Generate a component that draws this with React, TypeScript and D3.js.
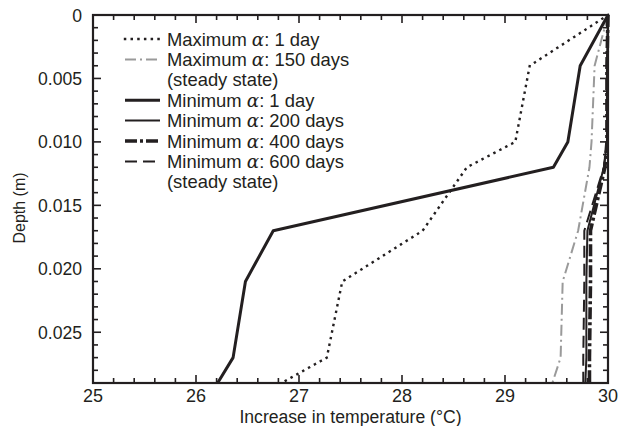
import { useEffect, useRef } from 'react'
import * as d3 from 'd3'

// depth knots (m), shared by every series
const depths = [0, 0.004, 0.010, 0.012, 0.017, 0.021, 0.027, 0.029]

// increase in temperature (°C) at each depth
const maxAlpha1Day = [30, 29.24, 29.10, 28.63, 28.20, 27.42, 27.27, 26.83]
const maxAlpha150Days = [30, 29.87, 29.84, 29.82, 29.71, 29.56, 29.54, 29.46]
const minAlpha1Day = [30, 29.73, 29.61, 29.47, 26.75, 26.48, 26.36, 26.21]
const minAlpha200Days = [30, 29.99, 29.99, 29.96, 29.80, 29.79, 29.79, 29.78]
const minAlpha400Days = [30, 29.99, 29.99, 29.97, 29.83, 29.83, 29.82, 29.82]
const minAlpha600Days = [30, 29.99, 29.99, 29.96, 29.77, 29.77, 29.76, 29.76]

const xTicks = [25, 26, 27, 28, 29, 30]
const yTicks = [0, 0.005, 0.010, 0.015, 0.020, 0.025]
const yTickLabels = ['0', '0.005', '0.010', '0.015', '0.020', '0.025']

interface Series {
  name: string
  suffix?: string
  values: number[]
  color: string
  width: number
  dash: string | null
  cap?: string
}

const series: Series[] = [
  { name: 'Maximum', suffix: ': 1 day', values: maxAlpha1Day, color: '#231f20', width: 2.4, dash: '0.1 6.6', cap: 'square' },
  { name: 'Maximum', suffix: ': 150 days', values: maxAlpha150Days, color: '#9a9a9a', width: 2, dash: '11 4 2 4' },
  { name: 'Minimum', suffix: ': 1 day', values: minAlpha1Day, color: '#231f20', width: 3, dash: null },
  { name: 'Minimum', suffix: ': 200 days', values: minAlpha200Days, color: '#231f20', width: 2, dash: null },
  { name: 'Minimum', suffix: ': 400 days', values: minAlpha400Days, color: '#231f20', width: 3.6, dash: '12 3 3 3' },
  { name: 'Minimum', suffix: ': 600 days', values: minAlpha600Days, color: '#231f20', width: 2, dash: '12 6' },
]

// legend rows; a string is a text-only continuation line
const legendRows: (number | string)[] = [0, 1, '(steady state)', 2, 3, 4, 5, '(steady state)']

export default function App() {
  const svgRef = useRef<SVGSVGElement>(null)

  useEffect(() => {
    if (!svgRef.current) return
    const svg = d3.select(svgRef.current)
    svg.selectAll('*').remove()

    const left = 93
    const right = 608
    const top = 15
    const bottom = 383
    const font = '"Liberation Sans", Arial, Helvetica, sans-serif'
    const ink = '#231f20'

    const x = d3.scaleLinear().domain([25, 30]).range([left, right])
    const y = d3.scaleLinear().domain([0, 0.029]).range([top, bottom])

    // curves
    const g = svg.append('g')
    series.forEach(s => {
      const line = d3.line<number>()
        .x(v => x(v))
        .y((_, i) => y(depths[i]))
      g.append('path')
        .attr('d', line(s.values) as string)
        .attr('fill', 'none')
        .attr('stroke', s.color)
        .attr('stroke-width', s.width)
        .attr('stroke-dasharray', s.dash)
        .attr('stroke-linecap', s.cap ?? 'butt')
        .attr('stroke-linejoin', 'round')
    })

    // ticks (inward, on all four sides)
    const minorX = d3.range(25, 30.001, 0.2)
    const minorY = d3.range(0, 0.02901, 0.001)
    minorX.forEach(t => {
      const major = Math.abs(t - Math.round(t)) < 1e-6
      const len = major ? 8 : 5
      svg.append('line').attr('x1', x(t)).attr('x2', x(t)).attr('y1', bottom).attr('y2', bottom - len)
        .attr('stroke', ink).attr('stroke-width', 1.6)
      svg.append('line').attr('x1', x(t)).attr('x2', x(t)).attr('y1', top).attr('y2', top + len)
        .attr('stroke', ink).attr('stroke-width', 1.6)
    })
    minorY.forEach(t => {
      const major = yTicks.some(v => Math.abs(v - t) < 1e-7)
      const len = major ? 8 : 5
      svg.append('line').attr('x1', left).attr('x2', left + len).attr('y1', y(t)).attr('y2', y(t))
        .attr('stroke', ink).attr('stroke-width', 1.6)
      svg.append('line').attr('x1', right).attr('x2', right - len).attr('y1', y(t)).attr('y2', y(t))
        .attr('stroke', ink).attr('stroke-width', 1.6)
    })

    // frame
    svg.append('rect')
      .attr('x', left).attr('y', top)
      .attr('width', right - left).attr('height', bottom - top)
      .attr('fill', 'none').attr('stroke', ink).attr('stroke-width', 2.2)

    // tick labels
    xTicks.forEach(t => {
      svg.append('text')
        .attr('x', x(t)).attr('y', 402)
        .attr('text-anchor', 'middle')
        .attr('font-family', font).attr('font-size', 18).attr('fill', ink)
        .text(t)
    })
    yTicks.forEach((t, i) => {
      svg.append('text')
        .attr('x', 82).attr('y', y(t) + 6.5)
        .attr('text-anchor', 'end')
        .attr('font-family', font).attr('font-size', 17.6).attr('fill', ink)
        .text(yTickLabels[i])
    })

    // axis titles
    svg.append('text')
      .attr('x', (left + right) / 2).attr('y', 423)
      .attr('text-anchor', 'middle')
      .attr('font-family', font).attr('font-size', 17.6).attr('fill', ink)
      .text('Increase in temperature (°C)')
    svg.append('text')
      .attr('transform', `translate(25, 208) rotate(-90)`)
      .attr('text-anchor', 'middle')
      .attr('font-family', font).attr('font-size', 16).attr('fill', ink)
      .text('Depth (m)')

    // legend
    const legend = svg.append('g')
    legendRows.forEach((row, i) => {
      const cy = 39 + i * 20.4
      const text = legend.append('text')
        .attr('x', 167).attr('y', cy + 6.5)
        .attr('font-family', font).attr('font-size', 18.4).attr('fill', ink)
      if (typeof row === 'string') {
        text.text(row)
        return
      }
      const s = series[row]
      legend.append('line')
        .attr('x1', 125).attr('x2', 160).attr('y1', cy).attr('y2', cy)
        .attr('stroke', s.color)
        .attr('stroke-width', s.width)
        .attr('stroke-dasharray', s.dash)
        .attr('stroke-linecap', s.cap ?? 'butt')
      text.append('tspan').text(s.name + ' ')
      text.append('tspan')
        .attr('font-family', '"DejaVu Serif", "Liberation Serif", serif')
        .attr('font-style', 'italic')
        .text('α')
      text.append('tspan').text(s.suffix ?? '')
    })
  }, [])

  return (
    <svg
      ref={svgRef}
      width={621}
      height={426}
      style={{ position: 'absolute', left: 0, top: 0, background: '#fff' }}
    />
  )
}
